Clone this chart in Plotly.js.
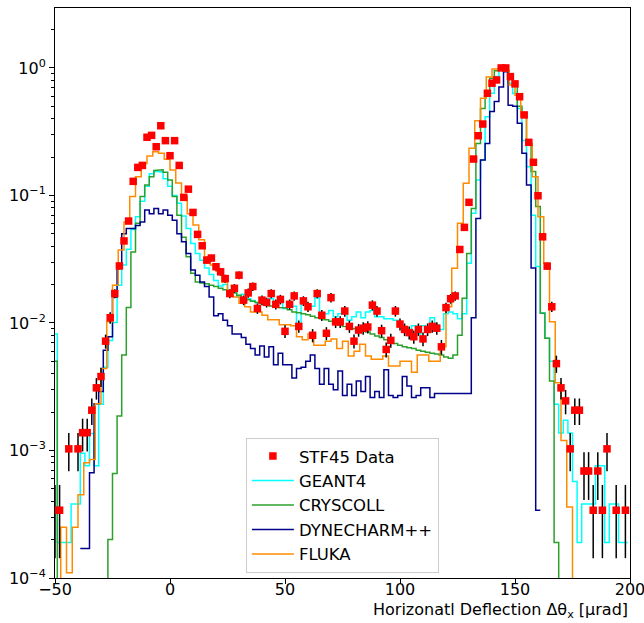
<!DOCTYPE html>
<html><head><meta charset="utf-8">
<script src="https://cdn.plot.ly/plotly-3.0.1.min.js"></script>
<style>body{margin:0;background:#fff}#chart{width:644px;height:623px}</style>
</head><body><div id="chart"></div>
<script>
// ---- measured data (STF45) ----
const dataX = [-50,-48,-44,-40,-38,-36,-34,-32,-30,-28,
  -26,-24,-22,-20,-18,-16,-14,-12,-10,-8,
  -6,-4,-2,0,2,4,6,8,10,12,
  14,16,18,20,22,24,26,28,30,32,
  34,36,38,40,42,44,46,48,50,52,
  54,56,58,60,62,64,66,68,70,72,
  74,76,78,80,82,84,86,88,90,92,
  94,96,98,100,102,104,106,108,110,112,
  114,116,118,120,122,124,126,128,130,132,
  134,136,138,140,142,144,146,148,150,152,
  154,156,158,160,162,164,166,168,170,172,
  174,176,178,180,182,184,186,188,190,194,198];
const dataY = [3.4e-4,3.4e-4,1.03e-3,1.03e-3,1.38e-3,1.38e-3,2.07e-3,3.1e-3,3.8e-3,7.2e-3,
  0.011,0.017,0.028,0.044,0.063,0.129,0.166,0.172,0.286,0.296,
  0.241,0.352,0.269,0.205,0.269,0.172,0.0966,0.112,0.0736,0.0495,
  0.0403,0.0311,0.0323,0.0276,0.0252,0.0223,0.017,0.0187,0.0237,0.0151,
  0.0172,0.0193,0.013,0.0151,0.0145,0.017,0.014,0.0153,0.0086,0.014,
  0.0163,0.0094,0.0149,0.0134,0.008,0.017,0.0115,0.0083,0.0158,0.0102,
  0.0102,0.0124,0.0094,0.0072,0.0088,0.0091,0.0093,0.0138,0.0124,0.0087,
  0.0062,0.0073,0.0124,0.0098,0.0089,0.0084,0.0078,0.0089,0.0075,0.0089,
  0.0094,0.0091,0.0065,0.0132,0.0155,0.0163,0.0377,0.0562,0.0883,0.193,
  0.294,0.363,0.633,0.759,0.805,1.0,1.0,0.855,0.75,0.595,
  0.428,0.261,0.182,0.0995,0.0474,0.0279,0.0134,0.0048,0.0031,0.00245,
  0.00103,0.00207,0.00207,0.00069,0.00069,0.00034,0.00069,0.00034,0.00103,0.00034,0.00034];
const eventWeight = 1.14e-4; // weight of one event

// ---- simulations, 2 urad bins ----
const E = 1e-7; // empty bin (below the axis)
const N = null; // no entry
const centers2 = [-50,-48,-46,-44,-42,-40,-38,-36,-34,-32,
  -30,-28,-26,-24,-22,-20,-18,-16,-14,-12,
  -10,-8,-6,-4,-2,0,2,4,6,8,
  10,12,14,16,18,20,22,24,26,28,
  30,32,34,36,38,40,42,44,46,48,
  50,52,54,56,58,60,62,64,66,68,
  70,72,74,76,78,80,82,84,86,88,
  90,92,94,96,98,100,102,104,106,108,
  110,112,114,116,118,120,122,124,126,128,
  130,132,134,136,138,140,142,144,146,148,
  150,152,154,156,158,160,162,164,166,168,
  170,172,174,176,178,180,182,184,186,188,
  190,192,194,196,198];
const geant4 = [0.0082,1.9e-4,1.9e-4,1.9e-4,3.8e-4,3.8e-4,9.5e-4,7.6e-4,1.36e-3,7.6e-4,
  2.3e-3,4.5e-3,7.3e-3,0.0101,0.0198,0.0285,0.0378,0.054,0.068,0.09,
  0.118,0.148,0.155,0.153,0.135,0.118,0.1,0.087,0.069,0.055,
  0.042,0.035,0.031,0.027,0.024,0.0215,0.0195,0.02,0.0165,0.0175,
  0.016,0.0168,0.0155,0.015,0.0145,0.0158,0.0148,0.0155,0.0138,0.0148,
  0.013,0.0145,0.0135,0.0095,0.0148,0.013,0.0135,0.0157,0.0118,0.0118,
  0.0125,0.0112,0.0118,0.0125,0.0105,0.0112,0.0122,0.011,0.0122,0.0125,
  0.0112,0.0112,0.0108,0.0108,0.0105,0.0095,0.0092,0.0085,0.0095,0.0082,
  0.0095,0.0088,0.011,0.0097,0.0089,0.0118,0.0122,0.0118,0.0108,0.0118,
  0.0294,0.0726,0.132,0.19,0.415,0.633,0.855,0.98,0.97,0.76,
  0.63,0.48,0.27,0.168,0.07,0.0277,0.012,0.0076,0.005,0.0023,
  0.00137,0.00173,0.00137,5.7e-4,1.9e-4,3.8e-4,3.8e-4,3.8e-4,7.6e-4,7.6e-4,
  1.9e-4,3.8e-4,3.8e-4,1.9e-4,1.9e-4];
const cryscoll = [0.005,E,E,E,E,E,E,E,E,E,
  E,E,2e-4,6.6e-4,1.86e-3,5.6e-3,0.0132,0.036,0.0606,0.098,
  0.121,0.14,0.157,0.159,0.152,0.132,0.098,0.07,0.047,0.033,
  0.0245,0.021,0.0206,0.0203,0.0198,0.0193,0.0187,0.0182,0.0178,0.0172,
  0.0165,0.0155,0.0152,0.0148,0.0145,0.0142,0.0139,0.0136,0.0134,0.0132,
  0.0131,0.0127,0.0122,0.012,0.0118,0.0116,0.0113,0.011,0.0108,0.0106,
  0.0103,0.01,0.0097,0.0094,0.0093,0.009,0.0088,0.0087,0.0085,0.0082,
  0.0079,0.0077,0.0074,0.0072,0.0069,0.0067,0.0065,0.0064,0.0063,0.0061,
  0.006,0.0059,0.0058,0.0057,0.0056,0.0054,0.0053,0.0056,0.008,0.0156,
  0.035,0.079,0.256,0.48,0.61,0.83,0.95,1.0,0.97,0.88,
  0.735,0.5,0.415,0.256,0.154,0.082,0.0119,0.0076,0.0035,1.9e-4,
  E,E,E,E,E,E,E,E,E,E,
  E,E,E,E,E];
const dynecharm = [N,N,N,N,N,N,1.7e-4,1.7e-4,6.7e-4,2.33e-3,
  2.9e-3,6.1e-3,7.8e-3,0.016,0.0285,0.05,0.055,0.055,0.058,0.062,
  0.077,0.072,0.079,0.072,0.077,0.07,0.064,0.05,0.0434,0.035,
  0.026,0.0237,0.021,0.0193,0.016,0.0114,0.0118,0.0105,0.0095,0.0082,
  0.0082,0.0077,0.0068,0.0063,0.0056,0.0066,0.0054,0.0065,0.0047,0.0058,
  0.0047,0.0047,0.0037,0.0044,0.0045,0.005,0.0056,0.0044,0.0033,0.0044,
  0.0033,0.003,0.0042,0.0027,0.0033,0.0027,0.0035,0.0029,0.0038,0.0026,
  0.0029,0.0026,0.0043,0.0027,0.0026,0.0027,0.0038,0.0032,0.0026,0.0027,
  0.0031,0.0031,0.0026,0.0028,0.0028,0.0028,0.0028,0.0028,0.0028,0.0028,
  0.0028,0.011,0.066,0.19,0.256,0.455,0.545,0.71,0.935,0.51,
  0.5,0.368,0.214,0.121,0.027,3.4e-4,N,N,N,N,
  N,N,N,N,N,N,N,N,N,N,
  N,N,N,N,N];

// ---- FLUKA, 2.5 urad bins ----
const centers25 = [-48.75,-46.25,-43.75,-41.25,-38.75,-36.25,-33.75,-31.25,-28.75,-26.25,
  -23.75,-21.25,-18.75,-16.25,-13.75,-11.25,-8.75,-6.25,-3.75,-1.25,
  1.25,3.75,6.25,8.75,11.25,13.75,16.25,18.75,21.25,23.75,
  26.25,28.75,31.25,33.75,36.25,38.75,41.25,43.75,46.25,48.75,
  51.25,53.75,56.25,58.75,61.25,63.75,66.25,68.75,71.25,73.75,
  76.25,78.75,81.25,83.75,86.25,88.75,91.25,93.75,96.25,98.75,
  101.25,103.75,106.25,108.75,111.25,113.75,116.25,118.75,121.25,123.75,
  126.25,128.75,131.25,133.75,136.25,138.75,141.25,143.75,146.25,148.75,
  151.25,153.75,156.25,158.75,161.25,163.75,166.25,168.75,171.25,173.75,
  176.25,178.75,181.25,183.75,186.25,188.75,191.25,193.75,196.25,198.75];
const fluka = [E,2.5e-4,1.1e-4,2.5e-4,4.5e-4,8e-4,8.5e-4,2.33e-3,4.4e-3,0.0102,
  0.0198,0.0374,0.062,0.098,0.14,0.178,0.204,0.22,0.214,0.192,
  0.158,0.125,0.098,0.072,0.0587,0.045,0.033,0.0285,0.0255,0.021,
  0.018,0.016,0.0143,0.0134,0.0122,0.0122,0.0115,0.0106,0.0106,0.0097,
  0.0097,0.0095,0.0078,0.0074,0.0082,0.0067,0.0067,0.0072,0.0075,0.0063,
  0.0072,0.0055,0.006,0.0068,0.0055,0.0052,0.0052,0.0055,0.0046,0.0046,
  0.005,0.005,0.0041,0.0056,0.0056,0.005,0.005,0.0065,0.0134,0.0268,
  0.0604,0.1245,0.234,0.386,0.578,0.85,0.98,0.98,0.95,0.735,
  0.61,0.415,0.257,0.14,0.068,0.0294,0.0102,0.0034,0.0012,3.6e-4,
  E,E,E,E,E,E,E,E,E,E];

const xTickVals = [-50,0,50,100,150,200];
const yTickVals = [1e-4,1e-3,1e-2,1e-1,1];
const yTickText = ['10<sup>\u22124</sup>','10<sup>\u22123</sup>','10<sup>\u22122</sup>','10<sup>\u22121</sup>','10<sup>0</sup>'];

function stepTrace(centers, values, width, name, color, rank) {
  const xs = [], ys = [];
  centers.forEach((c, i) => {
    xs.push(c - width / 2, c + width / 2);
    ys.push(values[i], values[i]);
  });
  return {type: 'scatter', mode: 'lines', x: xs, y: ys, name: name,
    line: {color: color, width: 1.5}, legendrank: rank,
    connectgaps: false, hoverinfo: 'skip'};
}

const errs = dataY.map(v => Math.sqrt(v * eventWeight));
const minorVals = [];
[-4, -3, -2, -1, 0].forEach(d => { for (let k = 2; k <= 9; k++) minorVals.push(k * Math.pow(10, d)); });

const traces = [
  stepTrace(centers2, geant4, 2, 'GEANT4', '#00ffff', 2),
  stepTrace(centers2, cryscoll, 2, 'CRYSCOLL', '#2ca02c', 3),
  stepTrace(centers2, dynecharm, 2, 'DYNECHARM++', '#00008b', 4),
  stepTrace(centers25, fluka, 2.5, 'FLUKA', '#ff8c00', 5),
  {type: 'scatter', mode: 'markers', x: dataX, y: dataY, name: 'STF45 Data',
   legendrank: 1,
   marker: {symbol: 'square', size: 7.5, color: 'red'},
   error_y: {type: 'data', array: errs, visible: true, color: 'black', thickness: 1.5, width: 0}}
];

const axisCommon = {showgrid: false, zeroline: false, showline: true, linecolor: 'black', linewidth: 1,
  mirror: true, ticks: 'outside', ticklen: 5, tickwidth: 1, tickcolor: 'black',
  tickfont: {size: 16, color: 'black'}};

const layout = {
  width: 644, height: 623,
  margin: {l: 55, r: 14, t: 8, b: 45},
  paper_bgcolor: 'white', plot_bgcolor: 'white',
  font: {family: 'DejaVu Sans', color: 'black'},
  showlegend: true,
  legend: {x: 0.332, y: 0.009, xanchor: 'left', yanchor: 'bottom',
    bgcolor: 'rgba(255,255,255,0.85)', bordercolor: '#cccccc', borderwidth: 1,
    font: {size: 16.5, color: 'black'}, itemwidth: 42, tracegroupgap: 0},
  xaxis: Object.assign({}, axisCommon, {range: [-50, 200], tickmode: 'array', tickvals: xTickVals,
    ticklabelstandoff: -8, ticklabeloverflow: 'allow'}),
  yaxis: Object.assign({}, axisCommon, {type: 'log', range: [-4, 0.47], tickmode: 'array',
    tickvals: yTickVals, ticktext: yTickText,
    minor: {tickmode: 'array', tickvals: minorVals, ticks: 'outside', ticklen: 3, tickcolor: 'black', tickwidth: 1}}),
  annotations: [{xref: 'paper', yref: 'paper', x: 1, y: -0.057, xanchor: 'right', yanchor: 'middle',
    showarrow: false, text: 'Horizonatl Deflection \u0394\u03b8<sub>x</sub> [\u00b5rad]',
    font: {size: 16, color: 'black'}}]
};

Plotly.newPlot('chart', traces, layout, {displayModeBar: false, staticPlot: true});
</script>
</body></html>
